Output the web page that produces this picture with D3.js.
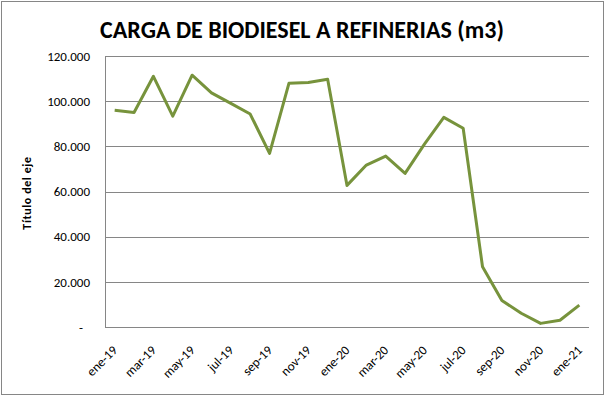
<!DOCTYPE html>
<html>
<head>
<meta charset="utf-8">
<script src="https://cdn.jsdelivr.net/npm/d3@7"></script>
<style>
  body { margin: 0; background: #fff; }
  svg { display: block; }
</style>
</head>
<body>
<div id="chart"></div>
<script>
// Chart values (m3), monthly from ene-19 to ene-21
const months = ["ene-19","feb-19","mar-19","abr-19","may-19","jun-19","jul-19","ago-19","sep-19","oct-19","nov-19","dic-19",
  "ene-20","feb-20","mar-20","abr-20","may-20","jun-20","jul-20","ago-20","sep-20","oct-20","nov-20","dic-20","ene-21"];
const carga = [96000, 95000, 111000, 93400, 111500, 103700, 99000, 94300, 76900, 107900, 108300, 109700,
  62700, 71700, 75700, 68000, 81000, 92800, 88000, 26700, 11700, 6100, 1600, 3000, 9700];
const yTicks = [0, 20000, 40000, 60000, 80000, 100000, 120000];
const xLabels = months.filter((d, i) => i % 2 === 0);

const width = 606;
const height = 397;
const margin = { top: 56, right: 17, bottom: 70, left: 105 };

const svg = d3.select("#chart")
    .append("svg")
    .attr("width", width)
    .attr("height", height);

// outer chart border
svg.append("rect")
    .attr("x", 1.5).attr("y", 1.5)
    .attr("width", width - 4).attr("height", height - 4)
    .attr("fill", "#fff")
    .attr("stroke", "#868686");

const x = d3.scalePoint()
    .domain(months)
    .range([margin.left, width - margin.right])
    .padding(0.5);

const y = d3.scaleLinear()
    .domain([0, 120000])
    .range([height - margin.bottom, margin.top]);

const fmt = v => v === 0 ? "-" : d3.format(",")(v).replace(/,/g, ".");

// gridlines + y labels
const yAxis = svg.append("g")
    .attr("transform", `translate(${margin.left},0)`)
    .call(d3.axisLeft(y).tickValues(yTicks).tickSize(-(width - margin.left - margin.right)).tickPadding(15).tickFormat(fmt));
yAxis.select(".domain").remove();
yAxis.selectAll(".tick line").attr("stroke", "#868686").attr("shape-rendering", "crispEdges");
yAxis.selectAll(".tick text")
    .attr("font-family", "Carlito, 'Liberation Sans Narrow', Arial, sans-serif")
    .attr("font-size", 13)
    .attr("fill", "#000")
    .attr("dx", d => d === 0 ? -7 : 0);

// left axis line
svg.append("line")
    .attr("x1", margin.left).attr("x2", margin.left)
    .attr("y1", margin.top).attr("y2", height - margin.bottom)
    .attr("stroke", "#868686")
    .attr("shape-rendering", "crispEdges");

// x axis
const xAxis = svg.append("g")
    .attr("transform", `translate(0,${height - margin.bottom})`)
    .call(d3.axisBottom(x).tickValues(xLabels).tickSize(0).tickPadding(0));
xAxis.select(".domain")
    .attr("stroke", "#868686")
    .attr("shape-rendering", "crispEdges")
    .attr("d", `M${margin.left},0H${width - margin.right}`);
xAxis.selectAll(".tick text")
    .attr("font-family", "Carlito, 'Liberation Sans Narrow', Arial, sans-serif")
    .attr("font-size", 13)
    .attr("fill", "#000")
    .attr("text-anchor", "end")
    .attr("dy", 0)
    .attr("transform", "translate(3,24) rotate(-45)");

// data line
const line = d3.line()
    .x((d, i) => x(months[i]))
    .y(d => y(d));

svg.append("path")
    .datum(carga)
    .attr("fill", "none")
    .attr("stroke", "#77933C")
    .attr("stroke-width", 3)
    .attr("stroke-linejoin", "round")
    .attr("d", line);

// title
svg.append("text")
    .attr("x", 302)
    .attr("y", 38)
    .attr("text-anchor", "middle")
    .attr("font-family", "Carlito, 'Liberation Sans Narrow', Arial, sans-serif")
    .attr("font-weight", "bold")
    .attr("font-size", 24)
    .text("CARGA DE BIODIESEL A REFINERIAS (m3)");

// y axis title
svg.append("text")
    .attr("transform", "translate(31,193) rotate(-90)")
    .attr("text-anchor", "middle")
    .attr("font-family", "Carlito, 'Liberation Sans Narrow', Arial, sans-serif")
    .attr("font-weight", "bold")
    .attr("font-size", 12)
    .attr("letter-spacing", 0.6)
    .text("Título del eje");
</script>
</body>
</html>
